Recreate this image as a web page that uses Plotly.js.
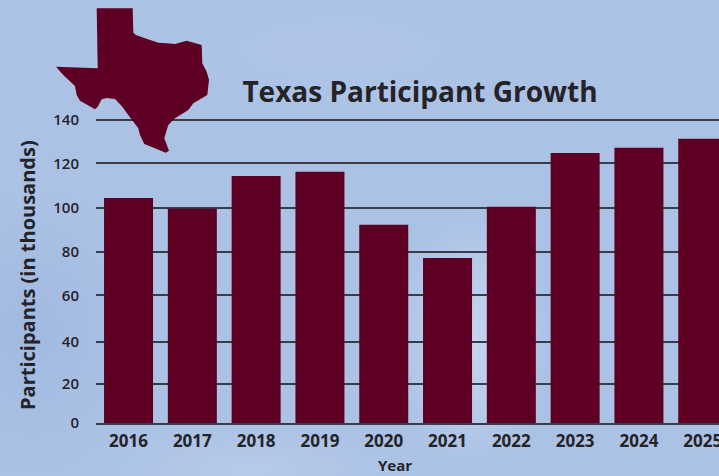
<!DOCTYPE html>
<html><head><meta charset="utf-8">
<script src="https://cdn.plot.ly/plotly-3.0.1.min.js"></script>
<style>
html,body{margin:0;padding:0;width:719px;height:476px;overflow:hidden}
body{background:
 radial-gradient(ellipse 80px 130px at 470px 340px, rgba(205,218,240,.8), rgba(205,218,240,0)),
 radial-gradient(ellipse 170px 50px at 250px 470px, rgba(190,208,236,.6), rgba(190,208,236,0)),
 radial-gradient(ellipse 220px 70px at 340px 50px, rgba(180,200,232,.6), rgba(180,200,232,0)),
 radial-gradient(ellipse 120px 140px at 30px 330px, rgba(150,176,220,.45), rgba(150,176,220,0)),
 #abc2e5;}
#c{width:719px;height:476px}
</style></head><body><div id="c"></div>
<script>
const years=['2016','2017','2018','2019','2020','2021','2022','2023','2024','2025'];
const participants=[104.5,99.6,114.5,116.4,92.3,77.3,100.5,125,127.3,131.4];
const tickValues=[2.27,20,39.3,60.3,80,99.9,120.2,140];
const tickLabels=['0','20','40','60','80','100','120','140'];
const outlineX=[96.7,132.7,133.3,136,145,158.3,166.7,175,186.7,201.7,202.3,206.7,209,207.3,193.3,188.3,175,168.3,164.3,169,165.7,155,144.3,140,138.3,128.3,121.7,115,106.7,101.7,97.7,95,80,76.7,75,63.3,56,97.7];
const outlineY=[8.3,8.3,32.7,35,38.3,42.7,43.3,44,40.7,45,63.3,71.7,80,95,103.3,110,118.3,125,138.3,150.7,152.7,148.3,144,135,128.3,115,106,99,98,99.3,106.7,109.3,100.7,95,86,75,66.7,68.3];
const M={l:96,r:0,t:110,b:53},W=719,H=476,maroon='#5d0024',ink='#252328',rule='#3a3d47';
const pw=W-M.l-M.r,ph=H-M.t-M.b;
const px=x=>(x-M.l)/pw, py=y=>(H-M.b-y)/ph;
const texasPath=outlineX.map((x,i)=>(i?'L':'M')+px(x)+','+py(outlineY[i])).join(' ')+' Z';
const font='"Open Sans", sans-serif';
Plotly.newPlot('c',[{type:'bar',x:years,y:participants,marker:{color:maroon,line:{width:0}},width:0.768,hoverinfo:'x+y'}],{
 width:W,height:H,margin:M,paper_bgcolor:'rgba(0,0,0,0)',plot_bgcolor:'rgba(0,0,0,0)',showlegend:false,
 xaxis:{type:'category',range:[-0.51,9.255],showgrid:false,zeroline:false,showline:true,linecolor:rule,linewidth:2,ticks:'',
  tickfont:{family:font,size:17,color:ink,weight:700},ticklabelstandoff:2,automargin:false},
 yaxis:{range:[2.27,144.5],tickmode:'array',tickvals:tickValues,ticktext:tickLabels,showgrid:true,gridcolor:rule,gridwidth:2,zeroline:false,showline:false,ticks:'',
  tickfont:{family:font,size:15,color:ink,weight:600},ticklabelstandoff:16,automargin:false},
 title:{text:'<b>Texas Participant Growth</b>',font:{family:font,size:28,color:ink},x:420/W,xanchor:'center',y:1-92/H,yanchor:'middle'},
 annotations:[
  {text:'<b>Participants (in thousands)</b>',textangle:-90,xref:'paper',yref:'paper',x:px(27),y:py(275),xanchor:'center',yanchor:'middle',showarrow:false,font:{family:font,size:20,color:ink}},
  {text:'<b>Year</b>',xref:'paper',yref:'paper',x:px(395),y:py(465),xanchor:'center',yanchor:'middle',showarrow:false,font:{family:font,size:15,color:ink}}
 ],
 shapes:[{type:'path',xref:'paper',yref:'paper',path:texasPath,fillcolor:maroon,line:{width:0},layer:'above'}]
},{displayModeBar:false,responsive:false});
</script></body></html>
